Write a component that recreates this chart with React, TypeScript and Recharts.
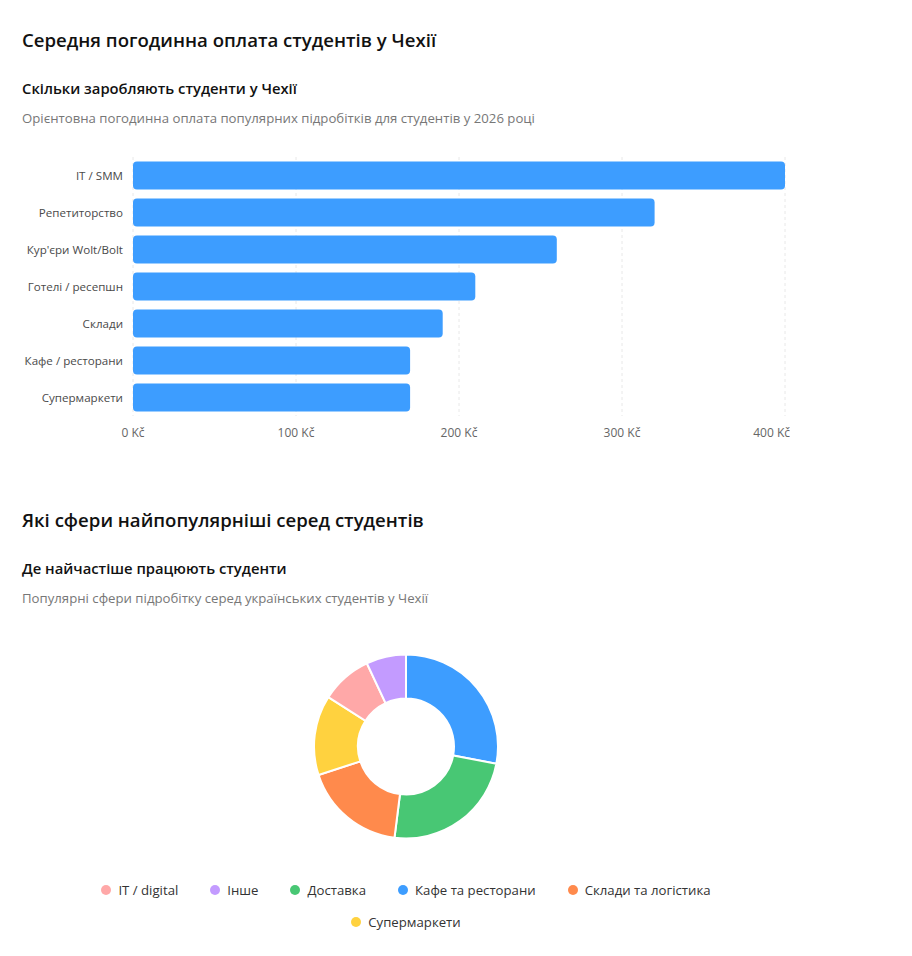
import React from 'react';
import { BarChart, Bar, XAxis, YAxis, CartesianGrid, PieChart, Pie, Cell, Legend } from 'recharts';

// Погодинна оплата (Kč)
const jobs = ['IT / SMM', 'Репетиторство', "Кур'єри Wolt/Bolt", 'Готелі / ресепшн', 'Склади', 'Кафе / ресторани', 'Супермаркети'];
const hourlyRate = [400, 320, 260, 210, 190, 170, 170];
const rateTicks = [0, 100, 200, 300, 400];

// Сфери підробітку (%)
const spheres = ['Кафе та ресторани', 'Доставка', 'Склади та логістика', 'Супермаркети', 'IT / digital', 'Інше'];
const sphereShare = [28, 24, 18, 14, 9, 7];
const sphereColors = ['#3d9dff', '#48c774', '#ff8a4c', '#ffd23f', '#ffa8a8', '#c39bff'];

const barData = jobs.map((job, i) => ({ job, rate: hourlyRate[i] }));
const pieData = spheres.map((name, i) => ({ name, share: sphereShare[i] }));

const FONT = '"Segoe UI", "Open Sans", sans-serif';
const CHART_W = 768;

const h1: React.CSSProperties = { position: 'absolute', left: 14, fontSize: 18.6, fontWeight: 600, lineHeight: '28px', color: '#111', whiteSpace: 'nowrap' };
const h2: React.CSSProperties = { position: 'absolute', left: 14, fontSize: 14.8, fontWeight: 600, lineHeight: '22px', color: '#111', whiteSpace: 'nowrap' };
const desc: React.CSSProperties = { position: 'absolute', left: 14, fontSize: 13.2, lineHeight: '20px', color: '#777', whiteSpace: 'nowrap' };

// підпис осі X; останній притиснутий до правого краю
const KcTick = (props: any) => {
  const { x, y, payload } = props;
  const isLast = payload.value === rateTicks[rateTicks.length - 1];
  return (
    <text
      x={isLast ? CHART_W : x}
      y={y}
      dy="0.71em"
      textAnchor={isLast ? 'end' : 'middle'}
      fontSize={12}
      fill="#666"
      fontFamily={FONT}
    >
      {`${payload.value} Kč`}
    </text>
  );
};

// підпис категорії без переносу
const JobTick = (props: any) => {
  const { x, y, payload } = props;
  return (
    <text x={x} y={y} dx={-2} dy="0.355em" textAnchor="end" fontSize={11.6} fill="#4a4a4a" fontFamily={FONT}>
      {payload.value}
    </text>
  );
};

const SphereLegend = (props: any) => {
  const items = [...(props.payload ?? [])].sort((a: any, b: any) => (String(a.value) < String(b.value) ? -1 : 1));
  return (
    <ul style={{ display: 'flex', flexWrap: 'wrap', justifyContent: 'center', margin: 0, padding: 0, listStyle: 'none' }}>
      {items.map((it: any) => (
        <li key={it.value} style={{ display: 'flex', alignItems: 'center', height: 32, padding: '0 16px', fontSize: 13.2, color: '#333' }}>
          <span style={{ display: 'inline-block', width: 10, height: 10, borderRadius: '50%', background: it.color, marginRight: 7 }} />
          {it.value}
        </li>
      ))}
    </ul>
  );
};

export default function App() {
  return (
    <div style={{ position: 'relative', width: 896, height: 940, fontFamily: FONT, background: '#fff' }}>
      <div style={{ ...h1, top: 18 }}>Середня погодинна оплата студентів у Чехії</div>
      <div style={{ ...h2, top: 69 }}>Скільки заробляють студенти у Чехії</div>
      <div style={{ ...desc, top: 100 }}>Орієнтовна погодинна оплата популярних підробітків для студентів у 2026 році</div>

      <div style={{ position: 'absolute', left: 14, top: 139 }}>
        <BarChart
          width={CHART_W}
          height={304}
          layout="vertical"
          data={barData}
          margin={{ top: 10, right: 5, left: 0, bottom: 5 }}
          barCategoryGap="12%"
        >
          <CartesianGrid horizontal={false} strokeDasharray="3 3" stroke="#e8e8e8" />
          <XAxis
            type="number"
            domain={[0, 400]}
            ticks={rateTicks}
            axisLine={false}
            tickLine={false}
            tickMargin={6}
            tick={<KcTick />}
          />
          <YAxis
            type="category"
            dataKey="job"
            width={111}
            axisLine={false}
            tickLine={false}
            tick={<JobTick />}
          />
          <Bar dataKey="rate" fill="#3d9dff" radius={4} isAnimationActive={false} />
        </BarChart>
      </div>

      <div style={{ ...h1, top: 498 }}>Які сфери найпопулярніші серед студентів</div>
      <div style={{ ...h2, top: 549 }}>Де найчастіше працюють студенти</div>
      <div style={{ ...desc, top: 580 }}>Популярні сфери підробітку серед українських студентів у Чехії</div>

      <div style={{ position: 'absolute', left: 14, top: 617 }}>
        <PieChart width={CHART_W} height={318} margin={{ top: 0, right: 5, left: 5, bottom: 5 }}>
          <Pie
            data={pieData}
            dataKey="share"
            nameKey="name"
            cx="50%"
            cy={121.5}
            innerRadius={48}
            outerRadius={92}
            startAngle={90}
            endAngle={-270}
            stroke="#fff"
            strokeWidth={2}
            isAnimationActive={false}
          >
            {pieData.map((d, i) => (
              <Cell key={d.name} fill={sphereColors[i]} />
            ))}
          </Pie>
          <Legend verticalAlign="bottom" content={<SphereLegend />} />
        </PieChart>
      </div>
    </div>
  );
}
